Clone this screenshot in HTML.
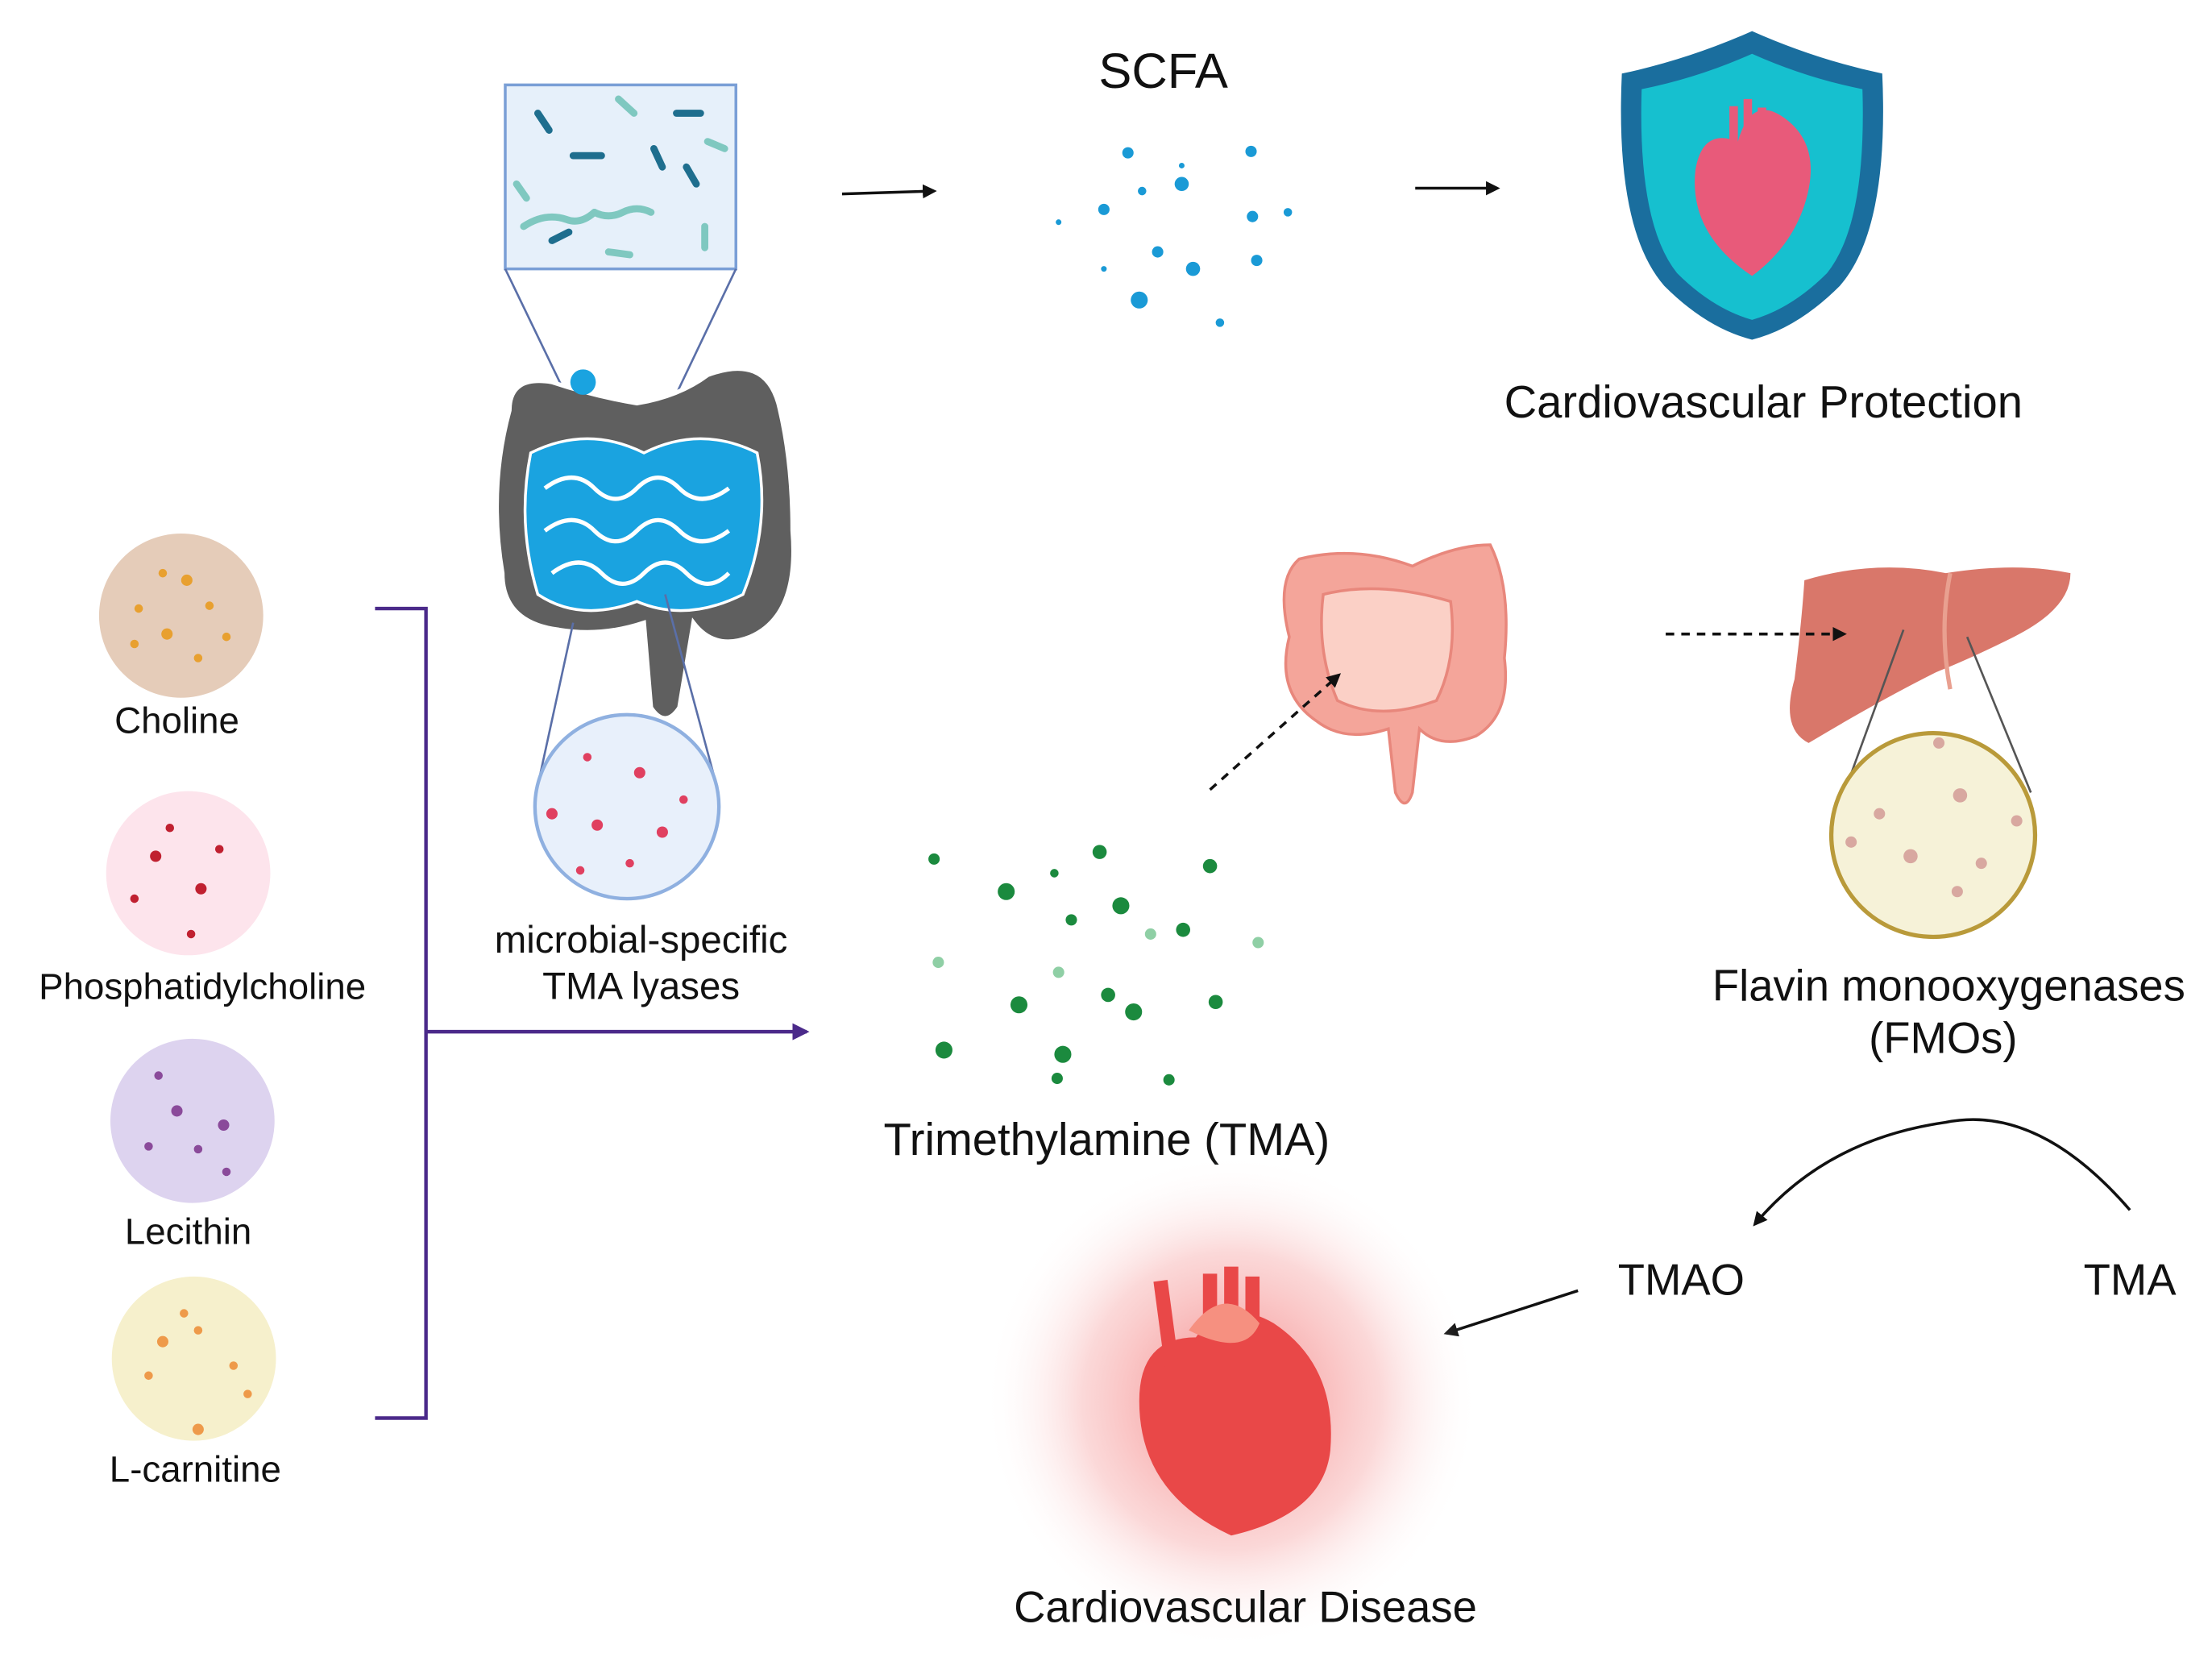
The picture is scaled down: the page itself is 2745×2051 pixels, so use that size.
<!DOCTYPE html>
<html><head><meta charset="utf-8"><style>
html,body{margin:0;padding:0;background:#fff;}
svg{display:block;}
text{font-family:"Liberation Sans",sans-serif;fill:#111;}
</style></head><body>
<svg width="2745" height="2051" viewBox="0 0 1563 1168" preserveAspectRatio="none" xmlns="http://www.w3.org/2000/svg">
<defs>
<marker id="ah" markerWidth="10" markerHeight="10" refX="8" refY="5" orient="auto" markerUnits="userSpaceOnUse"><path d="M0,0 L10,5 L0,10 Z" fill="#111"/></marker>
<marker id="ahp" markerWidth="12" markerHeight="12" refX="10" refY="6" orient="auto" markerUnits="userSpaceOnUse"><path d="M0,0 L12,6 L0,12 Z" fill="#4b2a8a"/></marker>
<radialGradient id="glow"><stop offset="0" stop-color="#f05050" stop-opacity="0.7"/><stop offset="0.6" stop-color="#f49090" stop-opacity="0.35"/><stop offset="1" stop-color="#fff" stop-opacity="0"/></radialGradient>
</defs>
<rect width="1563" height="1168" fill="#fff"/>

<!-- microbe box -->
<rect x="357" y="60" width="163" height="130" fill="#e6f0fa" stroke="#7a9fd6" stroke-width="2"/>
<g stroke="#1e6e8e" stroke-width="5" stroke-linecap="round">
<line x1="380" y1="80" x2="388" y2="92"/><line x1="462" y1="105" x2="468" y2="118"/><line x1="485" y1="118" x2="492" y2="130"/><line x1="390" y1="170" x2="402" y2="164"/><line x1="405" y1="110" x2="425" y2="110"/><line x1="478" y1="80" x2="495" y2="80"/>
</g>
<g stroke="#7fc8c0" stroke-width="5" fill="none" stroke-linecap="round">
<line x1="437" y1="70" x2="448" y2="80"/><line x1="500" y1="100" x2="512" y2="105"/><path d="M370 160 q15 -10 30 -5 q10 4 20 -5"/><path d="M420 150 q10 5 20 0 q10 -5 20 0"/><line x1="430" y1="178" x2="445" y2="180"/><line x1="498" y1="160" x2="498" y2="175"/><line x1="365" y1="130" x2="372" y2="140"/>
</g>
<line x1="357" y1="190" x2="410" y2="300" stroke="#5a6fa8" stroke-width="1.5"/>
<line x1="520" y1="190" x2="470" y2="295" stroke="#5a6fa8" stroke-width="1.5"/>

<!-- gut -->
<path d="M360 290 q0 -25 30 -20 q30 10 60 15 q30 -5 50 -20 q40 -15 50 20 q10 40 10 90 q5 60 -30 75 q-25 10 -40 -10 l-10 60 q-10 15 -20 0 l-5 -60 q-30 10 -60 5 q-40 -5 -40 -40 q-10 -60 5 -115 z" fill="#5f5f5f" stroke="#fff" stroke-width="3"/>
<path d="M375 320 q40 -20 80 0 q40 -20 80 0 q10 50 -10 100 q-40 20 -75 5 q-40 15 -70 -5 q-15 -50 -5 -100 z" fill="#1aa3e0" stroke="#fff" stroke-width="2"/>
<g stroke="#fff" stroke-width="3" fill="none">
<path d="M385 345 q20 -15 35 0 q15 15 30 0 q15 -15 30 0 q15 15 35 0"/>
<path d="M385 375 q20 -15 35 0 q15 15 30 0 q15 -15 30 0 q15 15 35 0"/>
<path d="M390 405 q20 -15 35 0 q15 15 30 0 q15 -15 30 0 q15 15 30 0"/>
</g>
<circle cx="412" cy="270" r="9" fill="#1aa3e0"/>
<line x1="405" y1="440" x2="380" y2="555" stroke="#5a6fa8" stroke-width="1.5"/>
<line x1="470" y1="420" x2="505" y2="550" stroke="#5a6fa8" stroke-width="1.5"/>
<circle cx="443" cy="570" r="65" fill="#e8f0fb" stroke="#8fb0e0" stroke-width="2.5"/>
<g fill="#e04060"><circle cx="415" cy="535" r="3"/><circle cx="452" cy="546" r="4"/><circle cx="390" cy="575" r="4"/><circle cx="422" cy="583" r="4"/><circle cx="468" cy="588" r="4"/><circle cx="445" cy="610" r="3"/><circle cx="483" cy="565" r="3"/><circle cx="410" cy="615" r="3"/></g>
<text x="453" y="673" font-size="27" text-anchor="middle">microbial-specific</text>
<text x="453" y="706" font-size="27" text-anchor="middle">TMA lyases</text>

<!-- left circles -->
<circle cx="128" cy="435" r="58" fill="#e5ccb9"/>
<g fill="#e8a030"><circle cx="115" cy="405" r="3"/><circle cx="132" cy="410" r="4"/><circle cx="98" cy="430" r="3"/><circle cx="148" cy="428" r="3"/><circle cx="118" cy="448" r="4"/><circle cx="160" cy="450" r="3"/><circle cx="95" cy="455" r="3"/><circle cx="140" cy="465" r="3"/></g>
<text x="125" y="518" font-size="26" text-anchor="middle">Choline</text>
<circle cx="133" cy="617" r="58" fill="#fde4ec"/>
<g fill="#c02030"><circle cx="120" cy="585" r="3"/><circle cx="110" cy="605" r="4"/><circle cx="142" cy="628" r="4"/><circle cx="155" cy="600" r="3"/><circle cx="135" cy="660" r="3"/><circle cx="95" cy="635" r="3"/></g>
<text x="143" y="706" font-size="26" text-anchor="middle">Phosphatidylcholine</text>
<circle cx="136" cy="792" r="58" fill="#ddd3ef"/>
<g fill="#8a4a9a"><circle cx="112" cy="760" r="3"/><circle cx="125" cy="785" r="4"/><circle cx="158" cy="795" r="4"/><circle cx="140" cy="812" r="3"/><circle cx="160" cy="828" r="3"/><circle cx="105" cy="810" r="3"/></g>
<text x="133" y="879" font-size="26" text-anchor="middle">Lecithin</text>
<circle cx="137" cy="960" r="58" fill="#f6f0cc"/>
<g fill="#ee9a4a"><circle cx="130" cy="928" r="3"/><circle cx="115" cy="948" r="4"/><circle cx="140" cy="940" r="3"/><circle cx="165" cy="965" r="3"/><circle cx="105" cy="972" r="3"/><circle cx="140" cy="1010" r="4"/><circle cx="175" cy="985" r="3"/></g>
<text x="138" y="1047" font-size="26" text-anchor="middle">L-carnitine</text>

<!-- bracket -->
<path d="M265 430 H301 V1002 H265" fill="none" stroke="#4b2a8a" stroke-width="2.5"/>
<line x1="301" y1="729" x2="570" y2="729" stroke="#4b2a8a" stroke-width="2.5" marker-end="url(#ahp)"/>

<!-- SCFA -->
<text x="822" y="62" font-size="35" text-anchor="middle">SCFA</text>
<g fill="#1a9ad6"><circle cx="797" cy="108" r="4"/><circle cx="884" cy="107" r="4"/><circle cx="835" cy="130" r="5"/><circle cx="807" cy="135" r="3"/><circle cx="780" cy="148" r="4"/><circle cx="885" cy="153" r="4"/><circle cx="910" cy="150" r="3"/><circle cx="748" cy="157" r="2"/><circle cx="818" cy="178" r="4"/><circle cx="843" cy="190" r="5"/><circle cx="888" cy="184" r="4"/><circle cx="805" cy="212" r="6"/><circle cx="862" cy="228" r="3"/><circle cx="780" cy="190" r="2"/><circle cx="835" cy="117" r="2"/></g>
<line x1="595" y1="137" x2="660" y2="135" stroke="#111" stroke-width="2" marker-end="url(#ah)"/>
<line x1="1000" y1="133" x2="1058" y2="133" stroke="#111" stroke-width="2" marker-end="url(#ah)"/>

<!-- shield -->
<path d="M1238 22 q45 20 92 30 q5 110 -30 150 q-30 30 -62 38 q-32 -8 -62 -38 q-35 -40 -30 -150 q47 -10 92 -30 z" fill="#1a6e9e"/>
<path d="M1238 38 q38 17 78 25 q3 95 -25 130 q-25 25 -53 33 q-28 -8 -53 -33 q-28 -35 -25 -130 q40 -8 78 -25 z" fill="#16c0cf"/>
<path d="M1238 195 q-45 -30 -40 -75 q5 -30 30 -20 q10 -35 35 -15 q25 20 12 60 q-10 30 -37 50 z" fill="#e85a7a"/>
<path d="M1225 100 v-25 M1235 98 v-28 M1245 98 v-22" stroke="#e85a7a" stroke-width="6"/>
<text x="1246" y="295" font-size="32" text-anchor="middle">Cardiovascular Protection</text>

<!-- pink intestine -->
<path d="M918 395 q40 -10 80 5 q30 -15 55 -15 q15 30 10 80 q5 40 -20 55 q-25 10 -40 -5 l-5 45 q-5 15 -12 0 l-5 -45 q-30 10 -50 -5 q-30 -20 -20 -60 q-10 -40 7 -55 z" fill="#f4a59a" stroke="#e8877c" stroke-width="2"/>
<path d="M935 420 q40 -10 90 5 q5 40 -10 70 q-40 15 -70 0 q-15 -35 -10 -75 z" fill="#fbd0c6" stroke="#e8877c" stroke-width="2"/>
<line x1="855" y1="558" x2="946" y2="477" stroke="#111" stroke-width="2" stroke-dasharray="6,5" marker-end="url(#ah)"/>

<!-- TMA dots -->
<g fill="#1b8a3e"><circle cx="660" cy="607" r="4"/><circle cx="777" cy="602" r="5"/><circle cx="855" cy="612" r="5"/><circle cx="711" cy="630" r="6"/><circle cx="745" cy="617" r="3"/><circle cx="792" cy="640" r="6"/><circle cx="757" cy="650" r="4"/><circle cx="836" cy="657" r="5"/><circle cx="720" cy="710" r="6"/><circle cx="783" cy="703" r="5"/><circle cx="801" cy="715" r="6"/><circle cx="859" cy="708" r="5"/><circle cx="667" cy="742" r="6"/><circle cx="751" cy="745" r="6"/><circle cx="747" cy="762" r="4"/><circle cx="826" cy="763" r="4"/></g>
<g fill="#8fcfa5"><circle cx="663" cy="680" r="4"/><circle cx="748" cy="687" r="4"/><circle cx="813" cy="660" r="4"/><circle cx="889" cy="666" r="4"/></g>
<text x="782" y="816" font-size="32" text-anchor="middle">Trimethylamine (TMA)</text>

<!-- liver -->
<path d="M1275 410 q50 -15 100 -5 q50 -8 88 0 q0 25 -40 45 q-30 15 -55 25 q-40 20 -90 50 q-20 -10 -10 -45 q5 -40 7 -70 z" fill="#d9776a"/>
<path d="M1378 405 q-8 40 0 82" stroke="#e9a090" stroke-width="3" fill="none"/>
<line x1="1177" y1="448" x2="1303" y2="448" stroke="#111" stroke-width="2" stroke-dasharray="6,5" marker-end="url(#ah)"/>
<line x1="1345" y1="445" x2="1305" y2="555" stroke="#555" stroke-width="1.5"/>
<line x1="1390" y1="450" x2="1435" y2="560" stroke="#555" stroke-width="1.5"/>
<circle cx="1366" cy="590" r="72" fill="#f6f2d8" stroke="#b99a3a" stroke-width="3"/>
<g fill="#d8a8a0"><circle cx="1370" cy="525" r="4"/><circle cx="1385" cy="562" r="5"/><circle cx="1328" cy="575" r="4"/><circle cx="1425" cy="580" r="4"/><circle cx="1308" cy="595" r="4"/><circle cx="1350" cy="605" r="5"/><circle cx="1400" cy="610" r="4"/><circle cx="1383" cy="630" r="4"/></g>
<text x="1377" y="707" font-size="31" text-anchor="middle">Flavin monooxygenases</text>
<text x="1373" y="744" font-size="31" text-anchor="middle">(FMOs)</text>

<path d="M1505 855 Q1440 780 1375 793 Q1290 805 1240 865" fill="none" stroke="#111" stroke-width="2" marker-end="url(#ah)"/>
<text x="1188" y="915" font-size="31" text-anchor="middle">TMAO</text>
<text x="1505" y="915" font-size="31" text-anchor="middle">TMA</text>
<line x1="1115" y1="912" x2="1022" y2="942" stroke="#111" stroke-width="2" marker-end="url(#ah)"/>

<!-- heart -->
<circle cx="870" cy="990" r="175" fill="url(#glow)"/>
<path d="M870 1085 q-65 -30 -65 -95 q0 -45 40 -45 q20 -30 55 -10 q45 30 40 90 q-5 45 -70 60 z" fill="#e94848"/>
<path d="M820 905 l8 60 M855 900 v40 M870 895 v35 M885 902 v35" stroke="#e94848" stroke-width="10"/>
<path d="M840 940 q25 -35 50 -5 q-10 25 -50 5z" fill="#f69080"/>
<text x="880" y="1146" font-size="31" text-anchor="middle">Cardiovascular Disease</text>
</svg>
</body></html>
